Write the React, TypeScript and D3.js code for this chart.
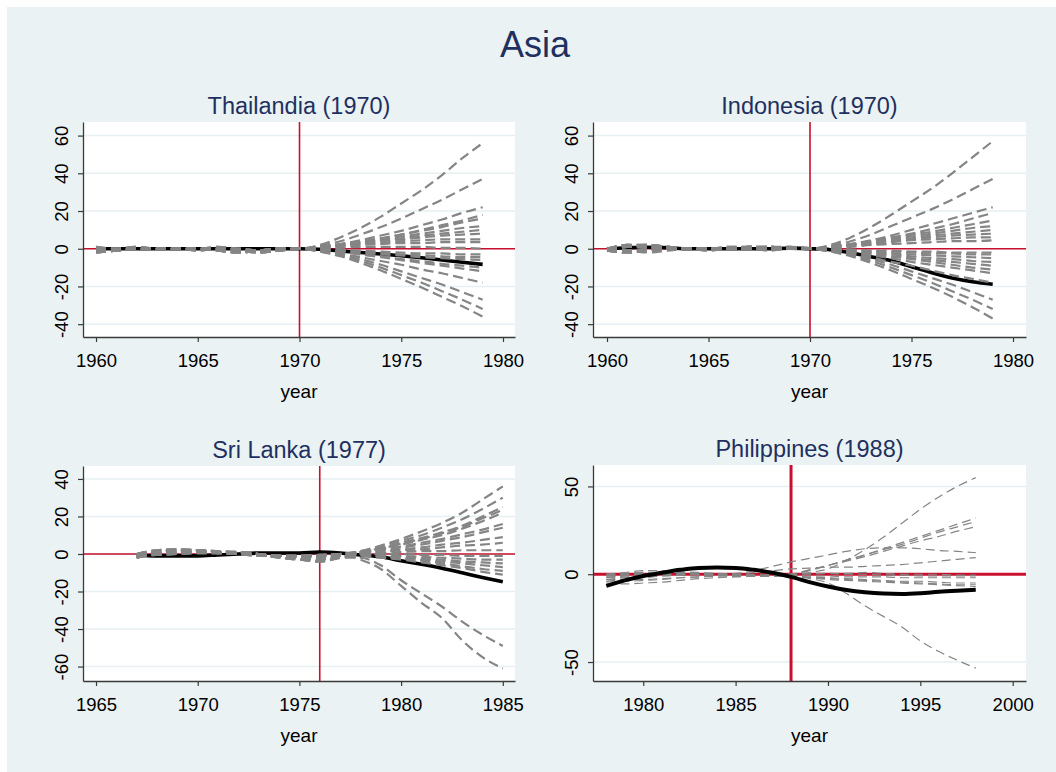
import React, { useEffect, useRef } from 'react'
import * as d3 from 'd3'

const W = 1056
const H = 772

const BG = '#eaf2f3'
const GRID = '#e6eff1'
const RED = '#c8102e'
const GRAY = '#858585'
const NAVY = '#1f3060'
const AXIS = '#3a3a3a'
const FONT = '"Liberation Sans", Arial, Helvetica, sans-serif'

// ---- Thailandia (1970)
const thaiYears = [1960, 1961, 1962, 1963, 1964, 1965, 1966, 1967, 1968, 1969, 1970, 1971, 1972, 1973, 1974, 1975, 1976, 1977, 1978, 1979]
const thaiTreated = [0, 0, 0, 0, 0, 0, 0, 0, 0, 0, 0, -0.3, -1.2, -2, -2.8, -3.7, -4.8, -6, -7.2, -8.3]
const thaiDonors = [
  [-1, 0, 0, 0, 0, 0, -1, -2, -1, 0, 0, 2, 6, 11, 17, 24, 31, 39, 48, 56],
  [-2, -1, 0, 0, 0, 0, 0, -1, -2, -1, 0, 1.5, 4, 7.5, 11.5, 16, 21, 26, 31.5, 37],
  [0, 0, 1, 0, 0, 0, 0, -1, -1, 0, 0, 1, 2.5, 4.5, 7, 9.5, 12.5, 15.5, 19, 22],
  [-1, -1, 0, 0, 0, -1, 0, 0, -1, 0, 0, 1, 2, 3.5, 5.5, 7.5, 10, 12.5, 15, 18],
  [1, 0, 0, 0, 0, 0, -1, -2, -1, 0, 0, 1, 2.5, 4, 5.5, 7.5, 9.5, 11.5, 14, 16],
  [0, -1, 0, 0, 0, 0, 0, -1, -1, 0, 0, 1, 2, 3.5, 5, 6.5, 8, 9.5, 11, 12],
  [-2, -1, 0, 0, 0, 0, 0, 0, -2, -1, 0, 0.5, 2, 3, 4.5, 5.5, 7, 8, 9, 10],
  [0, 0, 0, 0, 0, 0, 1, 0, -1, 0, 0, 1, 2, 3, 4, 5, 6, 7, 7.5, 8],
  [-1, 0, 0, 0, 0, 0, -1, -2, -1, 0, 0, 0.5, 1.5, 2.5, 3, 4, 4.5, 5, 5, 5],
  [-2, -1, 0, 0, 0, 0, 0, -1, -2, -1, 0, 0.5, 1, 2, 2.5, 3, 3, 3.5, 3.5, 3.5],
  [0, 0, 1, 0, 0, 0, 0, -1, -1, 0, 0, 0, 0.5, 1, 1, 1, 1, 0.5, 0.5, 0],
  [-1, -1, 0, 0, 0, -1, 0, 0, -1, 0, 0, 0, -0.5, -1, -1.5, -2, -2.5, -2.5, -3, -3],
  [1, 0, 0, 0, 0, 0, -1, -2, -1, 0, 0, -0.5, -1, -1.5, -2.5, -3, -3.5, -4, -4.5, -4.5],
  [0, -1, 0, 0, 0, 0, 0, -1, -1, 0, 0, -0.5, -1, -2, -3, -3.5, -4.5, -5, -5.5, -6],
  [-2, -1, 0, 0, 0, 0, 0, 0, -2, -1, 0, -0.5, -1.5, -3, -4, -5.5, -6.5, -8, -9, -10],
  [0, 0, 0, 0, 0, 0, 1, 0, -1, 0, 0, -0.5, -1.5, -3, -4.5, -6, -7.5, -9, -10.5, -12],
  [-1, 0, 0, 0, 0, 0, -1, -2, -1, 0, 0, -1, -2.5, -4.5, -6.5, -8.5, -11, -13, -15.5, -18],
  [-2, -1, 0, 0, 0, 0, 0, -1, -2, -1, 0, -1, -3, -5.5, -8.5, -12, -15.5, -19, -23, -27],
  [0, 0, 1, 0, 0, 0, 0, -1, -1, 0, 0, -1.5, -3.5, -6.5, -10, -14, -18, -22.5, -27, -32],
  [-1, -1, 0, 0, 0, -1, 0, 0, -1, 0, 0, -1.5, -4, -7.5, -11.5, -16, -20.5, -25.5, -30.5, -36],
]

// ---- Indonesia (1970)
const indoYears = [1960, 1961, 1962, 1963, 1964, 1965, 1966, 1967, 1968, 1969, 1970, 1971, 1972, 1973, 1974, 1975, 1976, 1977, 1978, 1979]
const indoTreated = [0, 0.5, 0.8, 0.5, 0, 0, 0, 0, 0, 0.3, 0, -0.5, -2.1, -4.2, -6.4, -9.6, -12.7, -15.5, -17.5, -18.8]
const indoDonors = [
  [0, 1, 1, 0, 0, 0, 0, 0, 0, 0, 0, 2, 6, 11.5, 18, 25, 32, 40, 48.5, 57],
  [-1, -2, -1, 0, 0, 0, 0, 1, 0, 0, 0, 1.5, 4, 7.5, 12, 16.5, 21, 26, 31.5, 37],
  [0, 2, 2, 1, 0, 0, 0, 1, 1, 0, 0, 1, 2.5, 4.5, 7, 10, 13, 16, 19, 22],
  [-1, -1, -2, -1, 0, 0, 0, 0, 0, 0, 0, 1, 2, 4, 6, 8, 10.5, 13, 16, 19],
  [0, 1, 1.5, 1, 0, 0, 0, 0, 0, 1, 0, 1, 2.5, 4, 5.5, 7.5, 9, 11, 13, 15],
  [-1, -2, -1, 0, 0, 0, 1, 1, 0, 0, 0, 1, 2, 3.5, 5, 6.5, 8, 9.5, 11, 12],
  [0, 1, 2, 1, 0, 0, 0, 0, 1, 0, 0, 0.5, 2, 3, 4.5, 5.5, 7, 8, 9, 10],
  [-1, -1, 0, 1, 0, -1, 0, 0, 0, 0, 0, 1, 2, 3, 4, 5, 6, 7, 7.5, 8],
  [0, 2, 1, 0, 0, 0, 0, 1, 1, 1, 0, 0.5, 1.5, 2.5, 3.5, 4.5, 5, 5.5, 6, 6],
  [-1, -1, -1, 0, 0, 0, 0, 0, -1, 0, 0, 0.5, 1, 2, 2.5, 3, 3.5, 4, 4, 4.5],
  [0, 1, 1, 0, 0, 0, 0, 1, 0, 0, 0, 0, -0.5, -1, -1, -1.5, -1.5, -2, -2, -2],
  [-1, -2, 0, 1, 0, 0, 0, 0, 1, 0, 0, 0, -0.5, -1, -1.5, -2, -2.5, -2.5, -3, -3],
  [0, 2, 2, 1, 0, 0, 0, 0, 0, 0, 0, -0.5, -1, -1.5, -2.5, -3, -3.5, -4, -4.5, -5],
  [-1, -1, -1, 0, 0, 0, 1, 1, 0, 0, 0, -0.5, -1, -2, -3, -4, -5, -5.5, -6.5, -7],
  [0, 1, 1, 0, 0, 0, 0, 0, 1, 0, 0, -0.5, -1.5, -2.5, -4, -5, -6, -7, -8, -9],
  [-1, -2, -1, 0, 0, 0, 0, 1, 0, 0, 0, -0.5, -1.5, -3, -4, -5.5, -7, -8.5, -10, -11],
  [0, 1, 2, 1, 0, 0, 0, 0, 0, 0, 0, -0.5, -2, -3.5, -5, -7, -8.5, -10, -11.5, -13],
  [-1, -1, 0, 0, 0, 0, 0, 0, 1, 0, 0, -1, -2.5, -4.5, -7, -9, -11.5, -14, -16, -18],
  [0, 2, 1, 0, 0, 0, 0, 1, 1, 0, 0, -1, -3, -5.5, -8.5, -12, -15.5, -19, -23, -27],
  [-1, -1, -1, 0, 0, -1, 0, 0, 0, 0, 0, -1.5, -3.5, -6.5, -10, -14, -18, -22.5, -27, -32],
  [0, 1, 1, 0, 0, 0, 0, 0, 0, 1, 0, -1.5, -4, -7.5, -11.5, -16, -20.5, -25.5, -31, -37],
]

// ---- Sri Lanka (1977)
const sriYears = [1967, 1968, 1969, 1970, 1971, 1972, 1973, 1974, 1975, 1976, 1977, 1978, 1979, 1980, 1981, 1982, 1983, 1984, 1985]
const sriTreated = [-0.5, -1, -1, -1, -0.5, 0, 0.5, 0.5, 0.5, 1, 0.5, -0.5, -1.5, -3.6, -5.5, -7.6, -10, -12.5, -14.8]
const sriDonors = [
  [-1, 1, 2, 2, 1, 0.5, 0, -1, -1, -1, 0, 1.5, 4.5, 8, 12, 16.5, 22, 29, 36],
  [-2, 0, 1, 1.5, 1, 0.5, -0.5, -1.5, -2, -2, 0, 1.5, 4, 7, 10, 14, 18.5, 24, 30],
  [0, 2, 2.5, 2, 1, 1, 0, -1, -2, -3, -1, 1, 3, 6, 8.5, 11.5, 15, 20, 25],
  [-1, -0.5, 0, 0.5, 0.5, 0, -0.5, -1, -1.5, -1, 0, 1, 3, 5.5, 8, 11, 14.5, 19, 23.5],
  [-2, 1, 2, 2, 1.5, 1, 0, -2, -3, -4, -2, 1, 3, 5, 7.5, 10, 13.5, 17.5, 22],
  [0, 0.5, 1, 1, 0.5, 0, -1, -1, -1, -0.5, 0, 1, 2.5, 4, 6, 8, 10.5, 13, 16],
  [-1, 1, 2, 2, 1, 0.5, 0, -1, -1, -1, 0, 0.5, 2, 3.5, 5, 7, 9, 11.5, 14],
  [-2, 0, 1, 1.5, 1, 0.5, -0.5, -1.5, -2, -2, 0, 0.5, 1.5, 2.5, 3.5, 5, 6, 7.5, 9],
  [0, 2, 2.5, 2, 1, 1, 0, -1, -2, -3, -1, 0.5, 1, 2, 2.5, 3.5, 4.5, 5, 6],
  [-1, -0.5, 0, 0.5, 0.5, 0, -0.5, -1, -1.5, -1, 0, 0, 0.5, 1, 1.5, 1.5, 2, 2, 2],
  [-2, 1, 2, 2, 1.5, 1, 0, -2, -3, -4, -2, 0, 0, 0, -0.5, -0.5, -1, -1, -1],
  [0, 0.5, 1, 1, 0.5, 0, -1, -1, -1, -0.5, 0, 0, -0.5, -1, -1.5, -2, -2.5, -3, -3],
  [-1, 1, 2, 2, 1, 0.5, 0, -1, -1, -1, 0, -0.5, -1, -1.5, -2.5, -3, -4, -4.5, -5],
  [-2, 0, 1, 1.5, 1, 0.5, -0.5, -1.5, -2, -2, 0, -0.5, -1, -2, -3, -4, -5, -6, -7],
  [0, 2, 2.5, 2, 1, 1, 0, -1, -2, -3, -1, -0.5, -1.5, -2.5, -3.5, -5, -6.5, -8, -9],
  [-1, -0.5, 0, 0.5, 0.5, 0, -0.5, -1, -1.5, -1, 0, -1, -2, -3, -4.5, -6, -7.5, -9.5, -11],
  [-2, 1, 2, 2, 1.5, 1, 0, -2, -3, -4, -2, -2, -6, -14, -21, -28, -36, -43, -49],
  [0, 0.5, 1, 1, 0.5, 0, -1, -1, -1, -0.5, 0, -3, -8, -17, -26, -34, -46, -55, -61],
]

// ---- Philippines (1988)
const phlYears = [1978, 1979, 1980, 1981, 1982, 1983, 1984, 1985, 1986, 1987, 1988, 1989, 1990, 1991, 1992, 1993, 1994, 1995, 1996, 1997, 1998]
const phlTreated = [-6.6, -3.5, -1, 0.8, 2.5, 3.6, 3.8, 3.6, 2.5, 0.8, -1.5, -4.5, -7, -9, -10.3, -11, -11.2, -10.8, -10, -9.4, -8.9]
const phlDonors = [
  [0, 0.5, 1, 0.5, 0, 0, -0.5, -1, -1, -0.5, -0.5, 1, 3, 8, 14, 21, 29, 37, 44, 50, 55],
  [-1, -1.5, -1, -0.5, 0, 0, 0, -0.5, -1, -1, -1, -2.5, -5, -11, -18, -24, -30, -38, -44, -49, -53.5],
  [-2, -1, 0, 1, 1, 0.5, 0, 0, -0.5, -1, 0, 2, 5, 8, 11, 14.5, 18, 21.5, 25, 28.5, 32],
  [-3, -2, -1, 0, 0.5, 0, -0.5, -1, -1, -1, 0, 2.5, 5, 8, 11, 14, 17, 20.5, 24, 27, 30],
  [-4, -3, -2, -1, -0.5, 0, 0, -0.5, -1, -0.5, 0, 2.5, 5, 7.5, 10, 13, 16, 19, 21.5, 24.5, 27],
  [0, 0, 0.5, 0.5, 0, 0, 0, 0.5, 2, 4.5, 7, 9, 11, 13, 14.5, 15, 15, 14.5, 13.5, 13, 12.3],
  [-1, -0.5, 0, 0, 0, -0.5, -0.5, 0, 1, 2, 3, 3.5, 4, 4, 4.5, 5, 5.5, 6.5, 7.5, 8.5, 9.5],
  [-4, -4, -3.5, -3, -2, -1.5, -1, -1, -1, -0.5, 0, 0.5, 0.5, 0, 0, -0.5, -0.5, -1, -1, -1, -1],
  [-1, 0, 1, 1, 0.5, 0, 0, 0, -0.5, -1, -1, -1, -1, -1.5, -1.5, -1.5, -2, -2, -2, -2, -2],
  [-5, -5.5, -5, -4.5, -3.5, -2.5, -2, -1.5, -1, -1, -1, -1.5, -2, -2.5, -3, -3.5, -4, -4, -4.5, -5, -5],
  [-2, -2, -1.5, -1, -0.5, 0, 0, -0.5, -1, -1, -1.5, -2, -2.5, -3, -3.5, -4, -4.5, -5, -5.5, -6, -6],
  [-3, -3, -3, -2.5, -2, -1.5, -1, -1, -1, -1, -1, -2, -3, -3.5, -4, -4.5, -5, -5.5, -6, -6.5, -7],
  [0, 1, 2, 2, 1.5, 1, 0.5, 0, 0, 0, 0, 0, 0.5, 0.5, 1, 0.5, 0, 0, 0, -0.5, -0.5],
]

const thaiTicksX = [1960, 1965, 1970, 1975, 1980]
const thaiTicksY = [-40, -20, 0, 20, 40, 60]
const sriTicksX = [1965, 1970, 1975, 1980, 1985]
const sriTicksY = [-60, -40, -20, 0, 20, 40]
const phlTicksX = [1980, 1985, 1990, 1995, 2000]
const phlTicksY = [-50, 0, 50]

type Panel = {
  title: string
  years: number[]
  treated: number[]
  donors: number[][]
  event: number
  xTicks: number[]
  yTicks: number[]
  xExtent: [number, number]
  yExtent: [number, number]
  left: number
  top: number
  width: number
  height: number
  thin: boolean
}

const panels: Panel[] = [
  {
    title: 'Thailandia (1970)', years: thaiYears, treated: thaiTreated, donors: thaiDonors, event: 1970,
    xTicks: thaiTicksX, yTicks: thaiTicksY, xExtent: [1959.36, 1980.59], yExtent: [-46.8, 67.2],
    left: 83, top: 122, width: 432, height: 215, thin: false,
  },
  {
    title: 'Indonesia (1970)', years: indoYears, treated: indoTreated, donors: indoDonors, event: 1970,
    xTicks: thaiTicksX, yTicks: thaiTicksY, xExtent: [1959.31, 1980.64], yExtent: [-46.8, 67.2],
    left: 593, top: 122, width: 433, height: 215, thin: false,
  },
  {
    title: 'Sri Lanka (1977)', years: sriYears, treated: sriTreated, donors: sriDonors, event: 1976,
    xTicks: sriTicksX, yTicks: sriTicksY, xExtent: [1964.36, 1985.6], yExtent: [-67.7, 46.9],
    left: 83, top: 466, width: 432, height: 215, thin: false,
  },
  {
    title: 'Philippines (1988)', years: phlYears, treated: phlTreated, donors: phlDonors, event: 1988,
    xTicks: phlTicksX, yTicks: phlTicksY, xExtent: [1977.28, 2000.72], yExtent: [-60.8, 62.2],
    left: 593, top: 465, width: 433, height: 216, thin: true,
  },
]

// plain hyphen for negatives, like the original
const fmt = (d: d3.NumberValue) => String(d)

function drawPanel(svg: d3.Selection<SVGSVGElement, unknown, null, undefined>, p: Panel) {
  const x = d3.scaleLinear().domain(p.xExtent).range([p.left, p.left + p.width])
  const y = d3.scaleLinear().domain(p.yExtent).range([p.top + p.height, p.top])
  const bottom = p.top + p.height
  const g = svg.append('g')

  g.append('rect')
    .attr('x', p.left).attr('y', p.top)
    .attr('width', p.width).attr('height', p.height)
    .attr('fill', '#ffffff')

  // horizontal grid
  g.append('g').selectAll('line').data(p.yTicks).join('line')
    .attr('x1', p.left).attr('x2', p.left + p.width)
    .attr('y1', d => y(d)).attr('y2', d => y(d))
    .attr('stroke', GRID).attr('stroke-width', 1.5)

  // reference lines
  const redW = p.thin ? 3 : 1.6
  g.append('line')
    .attr('x1', p.left).attr('x2', p.left + p.width)
    .attr('y1', y(0)).attr('y2', y(0))
    .attr('stroke', RED).attr('stroke-width', redW)
  g.append('line')
    .attr('x1', x(p.event)).attr('x2', x(p.event))
    .attr('y1', p.top).attr('y2', bottom)
    .attr('stroke', RED).attr('stroke-width', redW)

  const line = d3.line<number>()
    .x((_, i) => x(p.years[i]))
    .y(d => y(d))
    .curve(d3.curveMonotoneX)

  const drawTreated = () => {
    g.append('path').datum(p.treated)
      .attr('d', line)
      .attr('fill', 'none')
      .attr('stroke', '#000')
      .attr('stroke-width', p.thin ? 4 : 3.6)
      .attr('stroke-linejoin', 'round')
  }
  const drawDonors = () => {
    g.append('g').selectAll('path').data(p.donors).join('path')
      .attr('d', d => line(d))
      .attr('fill', 'none')
      .attr('stroke', GRAY)
      .attr('stroke-width', p.thin ? 1.2 : 2.2)
      .attr('stroke-dasharray', p.thin ? '9,5' : '10,5')
  }
  if (p.thin) { drawDonors(); drawTreated() } else { drawTreated(); drawDonors() }

  // axes
  const xAxis = g.append('g')
    .attr('transform', `translate(0,${bottom})`)
    .call(d3.axisBottom(x).tickValues(p.xTicks).tickFormat(fmt).tickSize(5).tickSizeOuter(0))
  const yAxis = g.append('g')
    .attr('transform', `translate(${p.left},0)`)
    .call(d3.axisLeft(y).tickValues(p.yTicks).tickFormat(fmt).tickSize(5).tickSizeOuter(0))

  for (const ax of [xAxis, yAxis]) {
    ax.attr('font-family', FONT).attr('font-size', 18.5)
    ax.select('.domain').attr('stroke', AXIS).attr('stroke-width', 1.3)
    ax.selectAll('.tick line').attr('stroke', AXIS).attr('stroke-width', 1.2)
    ax.selectAll('.tick text').attr('fill', '#000')
  }
  xAxis.selectAll('.tick text').attr('y', 29.5).attr('dy', null)
  yAxis.selectAll('.tick text')
    .attr('transform', 'rotate(-90)')
    .attr('x', 0).attr('y', -15).attr('dy', null)
    .attr('text-anchor', 'middle')

  g.append('text')
    .attr('x', p.left + p.width / 2).attr('y', bottom + 60.5)
    .attr('text-anchor', 'middle')
    .attr('font-family', FONT).attr('font-size', 19)
    .attr('fill', '#000')
    .text('year')

  g.append('text')
    .attr('x', p.left + p.width / 2).attr('y', p.top - 8.5)
    .attr('text-anchor', 'middle')
    .attr('font-family', FONT).attr('font-size', 23.5)
    .attr('fill', NAVY)
    .text(p.title)
}

export default function App() {
  const ref = useRef<SVGSVGElement>(null)

  useEffect(() => {
    if (!ref.current) return
    const svg = d3.select(ref.current)
    svg.selectAll('*').remove()

    svg.append('rect').attr('x', 0).attr('y', 0).attr('width', W).attr('height', H).attr('fill', '#ffffff')
    svg.append('rect').attr('x', 7).attr('y', 7).attr('width', W - 7).attr('height', H - 7).attr('fill', BG)

    svg.append('text')
      .attr('x', 535).attr('y', 57)
      .attr('text-anchor', 'middle')
      .attr('font-family', FONT).attr('font-size', 36)
      .attr('fill', NAVY)
      .text('Asia')

    panels.forEach(p => drawPanel(svg, p))
  }, [])

  return (
    <svg ref={ref} width={W} height={H} style={{ position: 'absolute', left: 0, top: 0 }} />
  )
}
